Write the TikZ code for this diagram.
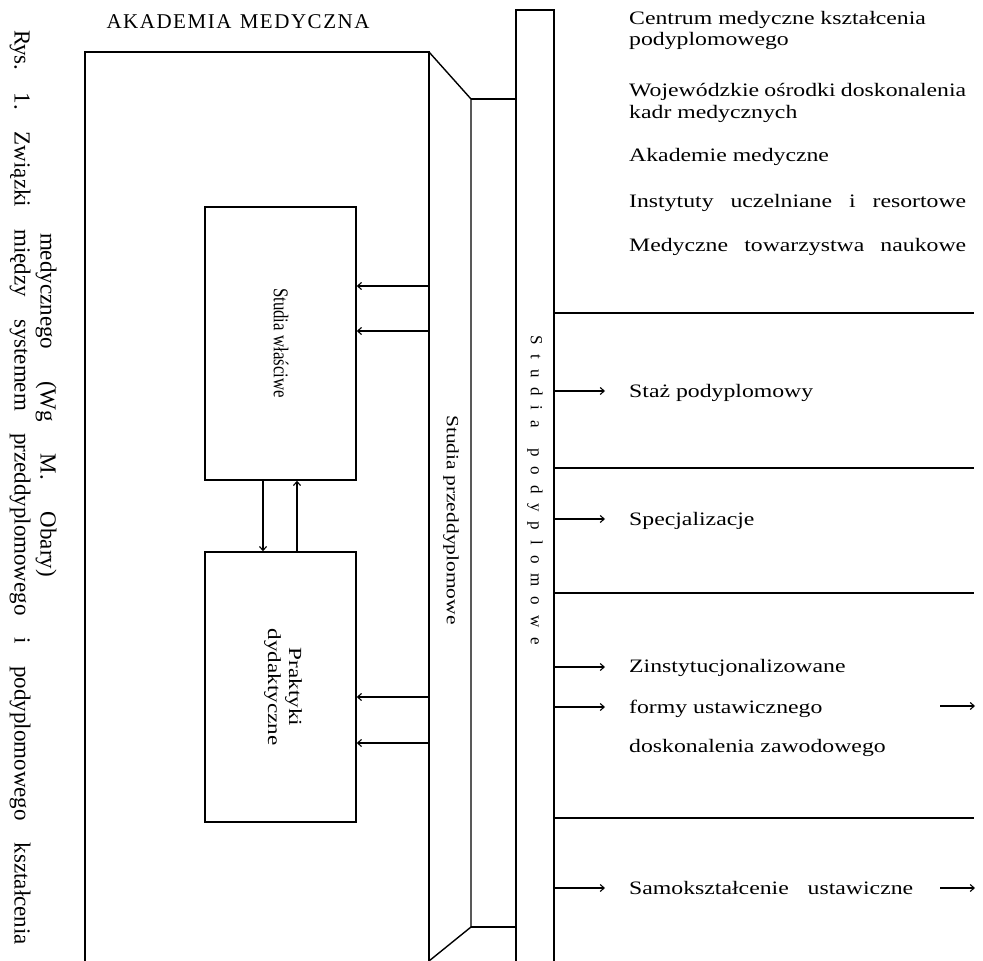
\documentclass[tikz,border=0pt]{standalone}
\usepackage{fontspec}
\setmainfont{Liberation Serif}
\newfontfamily\rt[FakeStretch=1.25]{Liberation Serif}
\newfontfamily\vt[FakeStretch=1.25]{Liberation Serif}
\newfontfamily\nt[FakeStretch=0.8]{Liberation Serif}
\usetikzlibrary{arrows.meta}
\tikzset{
  frame/.style={line width=1.4pt},
  arr/.style={line width=1.1pt,-{Straight Barb[length=4pt,width=7pt]}},
  rtxt/.style={anchor=base west,inner sep=0pt,font=\rt\fontsize{19}{22}\selectfont},
  vlab/.style={rotate=-90,anchor=center,inner sep=0pt,align=center},
  box/.style={draw,line width=1.4pt,inner sep=0pt}
}
\begin{document}
\begin{tikzpicture}[x=1pt,y=-1pt]
\useasboundingbox (0,0) rectangle (983,961);
% caption
\node[vlab,font=\fontsize{23}{27}\selectfont\frenchspacing] (cap1) at (20,487.5)
  {\makebox[915pt][s]{Rys. 1. Związki między systemem przeddyplomowego i podyplomowego kształcenia}};
\node[vlab,font=\fontsize{23}{27}\selectfont\frenchspacing] (cap2) at (46,405)
  {\makebox[344pt][s]{medycznego (Wg M. Obary)}};
% title
\node[inner sep=0pt,font=\fontsize{21}{24}\selectfont] (title) at (238,22)
  {\makebox[263pt][s]{A\hfil K\hfil A\hfil D\hfil E\hfil M\hfil I\hfil A\hfil\ \hfil M\hfil E\hfil D\hfil Y\hfil C\hfil Z\hfil N\hfil A}};
% frame coordinates
\coordinate (bl) at (85,961);
\coordinate (tl) at (85,52);
\coordinate (tr) at (429,52);
\coordinate (br) at (429,961);
\coordinate (it) at (471,99);
\coordinate (ib) at (471,927);
\coordinate (jt) at (516,99);
\coordinate (jb) at (516,927);
\coordinate (ct) at (516,10);
\coordinate (cb) at (516,961);
\coordinate (dt) at (554,10);
\coordinate (db) at (554,961);
\draw[frame] (bl) -- (tl) -- (tr) -- (br);
\draw[frame] (tr) -- (it) -- (ib) -- (br);
\draw[frame] (it) -- (jt);
\draw[frame] (ib) -- (jb);
\draw[frame] (cb) -- (ct) -- (dt) -- (db);
% horizontal separators
\foreach \y/\n in {313/h1,468/h2,593/h3,818/h4}{
  \coordinate (\n a) at (554,\y);
  \coordinate (\n b) at (974,\y);
  \draw[frame] (\n a) -- (\n b);
}
% inner boxes
\node[box,minimum width=151pt,minimum height=273pt] (sw) at (280.5,343.5) {};
\node[box,minimum width=151pt,minimum height=270pt] (pd) at (280.5,687) {};
\node[vlab,font=\nt\fontsize{21}{24}\selectfont] (swl) at (281,343) {Studia właściwe};
\node[vlab,font=\vt\fontsize{18.5}{21}\selectfont] (pdl) at (283,687) {Praktyki\\dydaktyczne};
\coordinate (d1) at (263,0);
\coordinate (d2) at (297,0);
\draw[arr] (sw.south -| d1) -- (pd.north -| d1);
\draw[arr] (pd.north -| d2) -- (sw.south -| d2);
\foreach \y/\n/\b in {286/a1/sw,331/a2/sw,697/a3/pd,743/a4/pd}{
  \coordinate (\n) at (429,\y);
  \draw[arr] (\n) -- (\b.east |- \n);
}
% vertical labels
\node[vlab,font=\vt\fontsize{17.2}{21}\selectfont] (pre) at (451,520) {Studia przeddyplomowe};
\node[vlab,font=\fontsize{17}{20}\selectfont] (post) at (535,490)
  {\makebox[310pt][s]{S t u d i a\ \ p o d y p l o m o w e}};
% right texts
\node[rtxt] (t1) at (629,24) {Centrum medyczne kształcenia};
\node[rtxt] (t2) at (629,45) {podyplomowego};
\node[rtxt] (t3) at (629,96) {\makebox[337pt][s]{Wojewódzkie ośrodki doskonalenia}};
\node[rtxt] (t4) at (629,118) {kadr medycznych};
\node[rtxt] (t5) at (629,161) {Akademie medyczne};
\node[rtxt] (t6) at (629,207) {\makebox[337pt][s]{Instytuty uczelniane i resortowe}};
\node[rtxt] (t7) at (629,251) {\makebox[337pt][s]{Medyczne towarzystwa naukowe}};
\node[rtxt] (s1) at (629,397) {Staż podyplomowy};
\node[rtxt] (s2) at (629,525) {Specjalizacje};
\node[rtxt] (s3) at (629,672) {Zinstytucjonalizowane};
\node[rtxt] (s4) at (629,713) {formy ustawicznego};
\node[rtxt] (s5) at (629,752) {doskonalenia zawodowego};
\node[rtxt] (s6) at (629,894) {\makebox[284pt][s]{Samokształcenie ustawiczne}};
% arrows into right column
\foreach \y/\n in {391/r1,519/r2,667/r3,707/r4,888/r5}{
  \coordinate (\n s) at (554,\y);
  \coordinate (\n e) at (605,\y);
  \draw[arr] (\n s) -- (\n e);
}
\foreach \y/\n in {706/q1,888/q2}{
  \coordinate (\n s) at (940,\y);
  \coordinate (\n e) at (975,\y);
  \draw[arr] (\n s) -- (\n e);
}
\end{tikzpicture}
\end{document}
